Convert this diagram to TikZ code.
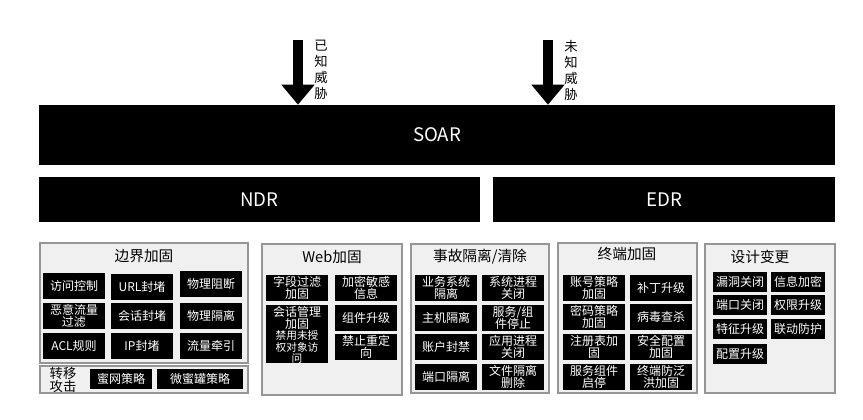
\documentclass[tikz,border=0pt]{standalone}
\usepackage{fontspec}
\setmainfont{Noto Sans CJK SC}
\usetikzlibrary{arrows.meta}
\usetikzlibrary{positioning}
\definecolor{panelgray}{RGB}{240,240,240}
\definecolor{panelline}{RGB}{150,150,150}
\tikzset{bar/.style={fill=black,text=white,inner sep=0pt,font=\fontsize{14}{16}\selectfont}}
\tikzset{panel/.style={draw=panelline,fill=panelgray,line width=0.8pt}}
\tikzset{head/.style={inner sep=0pt,font=\fontsize{11}{13}\selectfont}}
\tikzset{cell/.style={fill=black,text=white,inner sep=0pt,align=center,font=\fontsize{9}{9.5}\selectfont}}
\tikzset{wcell/.style={cell,minimum width=47pt,minimum height=20pt}}
\tikzset{dcell/.style={cell,minimum width=41pt,minimum height=15pt}}
\tikzset{threat/.style={inner sep=0pt,align=center,font=\fontsize{10}{12}\selectfont}}
\tikzset{push/.style={line width=7.5pt,-{Triangle[width=24pt,length=15pt]}}}
\begin{document}
\begin{tikzpicture}[x=0.75pt,y=-0.75pt]
      \useasboundingbox (0,0) rectangle (863,420);
      % top row
      \node [bar,minimum width=597pt,minimum height=45pt] (soar) at (437,135) {SOAR};
      \node [bar,minimum width=331pt,minimum height=34pt] (ndr) at (259.5,199.5) {NDR};
      \node [bar,minimum width=256pt,minimum height=34pt] (edr) at (664,199.5) {EDR};
      \coordinate (k1) at (298,40);
      \coordinate (k2) at (548,40);
      \draw[push] (k1) -- (k1 |- soar.north);
      \draw[push] (k2) -- (k2 |- soar.north);
      \node [threat,right=12pt of k1,anchor=north west] (t1) {已\\知\\威\\胁};
      \node [threat,right=12pt of k2,anchor=north west] (t2) {未\\知\\威\\胁};
      % panels
      \draw[panel] (40,243) rectangle (248,363);
      \draw[panel] (40,366) rectangle (248,393);
      \draw[panel] (262,244) rectangle (402,395);
      \draw[panel] (411,244) rectangle (549,393);
      \draw[panel] (558,243) rectangle (697,393);
      \draw[panel] (705,244) rectangle (835,393);
      \node [head] (h1) at (144,256) {边界加固};
      \node [head] (h2) at (332,257) {Web加固};
      \node [head] (h3) at (480,257) {事故隔离/清除};
      \node [head] (h4) at (627,254) {终端加固};
      \node [head] (h5) at (760,257) {设计变更};
      \node [head,align=center,font=\fontsize{10}{10}\selectfont] (h6) at (63,380) {转移\\攻击};
      % border
      \node [wcell] (b11) at (74,286) {访问控制};
      \node [wcell] (b12) at (142,287) {URL封堵};
      \node [wcell] (b13) at (211,284) {物理阻断};
      \node [wcell] (b21) at (74,316) {恶意流量\\过滤};
      \node [wcell] (b22) at (142,316) {会话封堵};
      \node [wcell] (b23) at (211,316) {物理隔离};
      \node [wcell] (b31) at (74,346) {ACL规则};
      \node [wcell] (b32) at (142,346) {IP封堵};
      \node [wcell] (b33) at (211,346) {流量牵引};
      \node [cell,minimum width=47pt,minimum height=15pt] (m1) at (121,379) {蜜网策略};
      \node [cell,minimum width=64pt,minimum height=15pt] (m2) at (200,379) {微蜜罐策略};
      % web
      \node [wcell] (w11) at (297,288) {字段过滤\\加固};
      \node [wcell] (w12) at (366,288) {加密敏感\\信息};
      \node [wcell] (w21) at (297,318) {会话管理\\加固};
      \node [wcell] (w22) at (366,318) {组件升级};
      \node [wcell,font=\fontsize{8}{8.5}\selectfont] (w31) at (297,347) {禁用未授\\权对象访\\问};
      \node [wcell] (w32) at (366,347) {禁止重定\\向};
      % incident
      \node [wcell] (a11) at (446,288) {业务系统\\隔离};
      \node [wcell] (a12) at (513,288) {系统进程\\关闭};
      \node [wcell] (a21) at (446,318) {主机隔离};
      \node [wcell] (a22) at (513,318) {服务/组\\件停止};
      \node [wcell] (a31) at (446,347) {账户封禁};
      \node [wcell] (a32) at (513,347) {应用进程\\关闭};
      \node [wcell] (a41) at (446,377) {端口隔离};
      \node [wcell] (a42) at (513,377) {文件隔离\\删除};
      % endpoint
      \node [wcell] (e11) at (594,288) {账号策略\\加固};
      \node [wcell] (e12) at (661,288) {补丁升级};
      \node [wcell] (e21) at (594,317) {密码策略\\加固};
      \node [wcell] (e22) at (661,317) {病毒查杀};
      \node [wcell] (e31) at (594,347) {注册表加\\固};
      \node [wcell] (e32) at (661,347) {安全配置\\加固};
      \node [wcell] (e41) at (594,377) {服务组件\\启停};
      \node [wcell] (e42) at (661,377) {终端防泛\\洪加固};
      % design
      \node [dcell] (d11) at (740,282) {漏洞关闭};
      \node [dcell] (d12) at (798,282) {信息加密};
      \node [dcell] (d21) at (740,305) {端口关闭};
      \node [dcell] (d22) at (798,305) {权限升级};
      \node [dcell] (d31) at (740,329) {特征升级};
      \node [dcell] (d32) at (798,329) {联动防护};
      \node [dcell] (d41) at (740,354) {配置升级};
\end{tikzpicture}
\end{document}
